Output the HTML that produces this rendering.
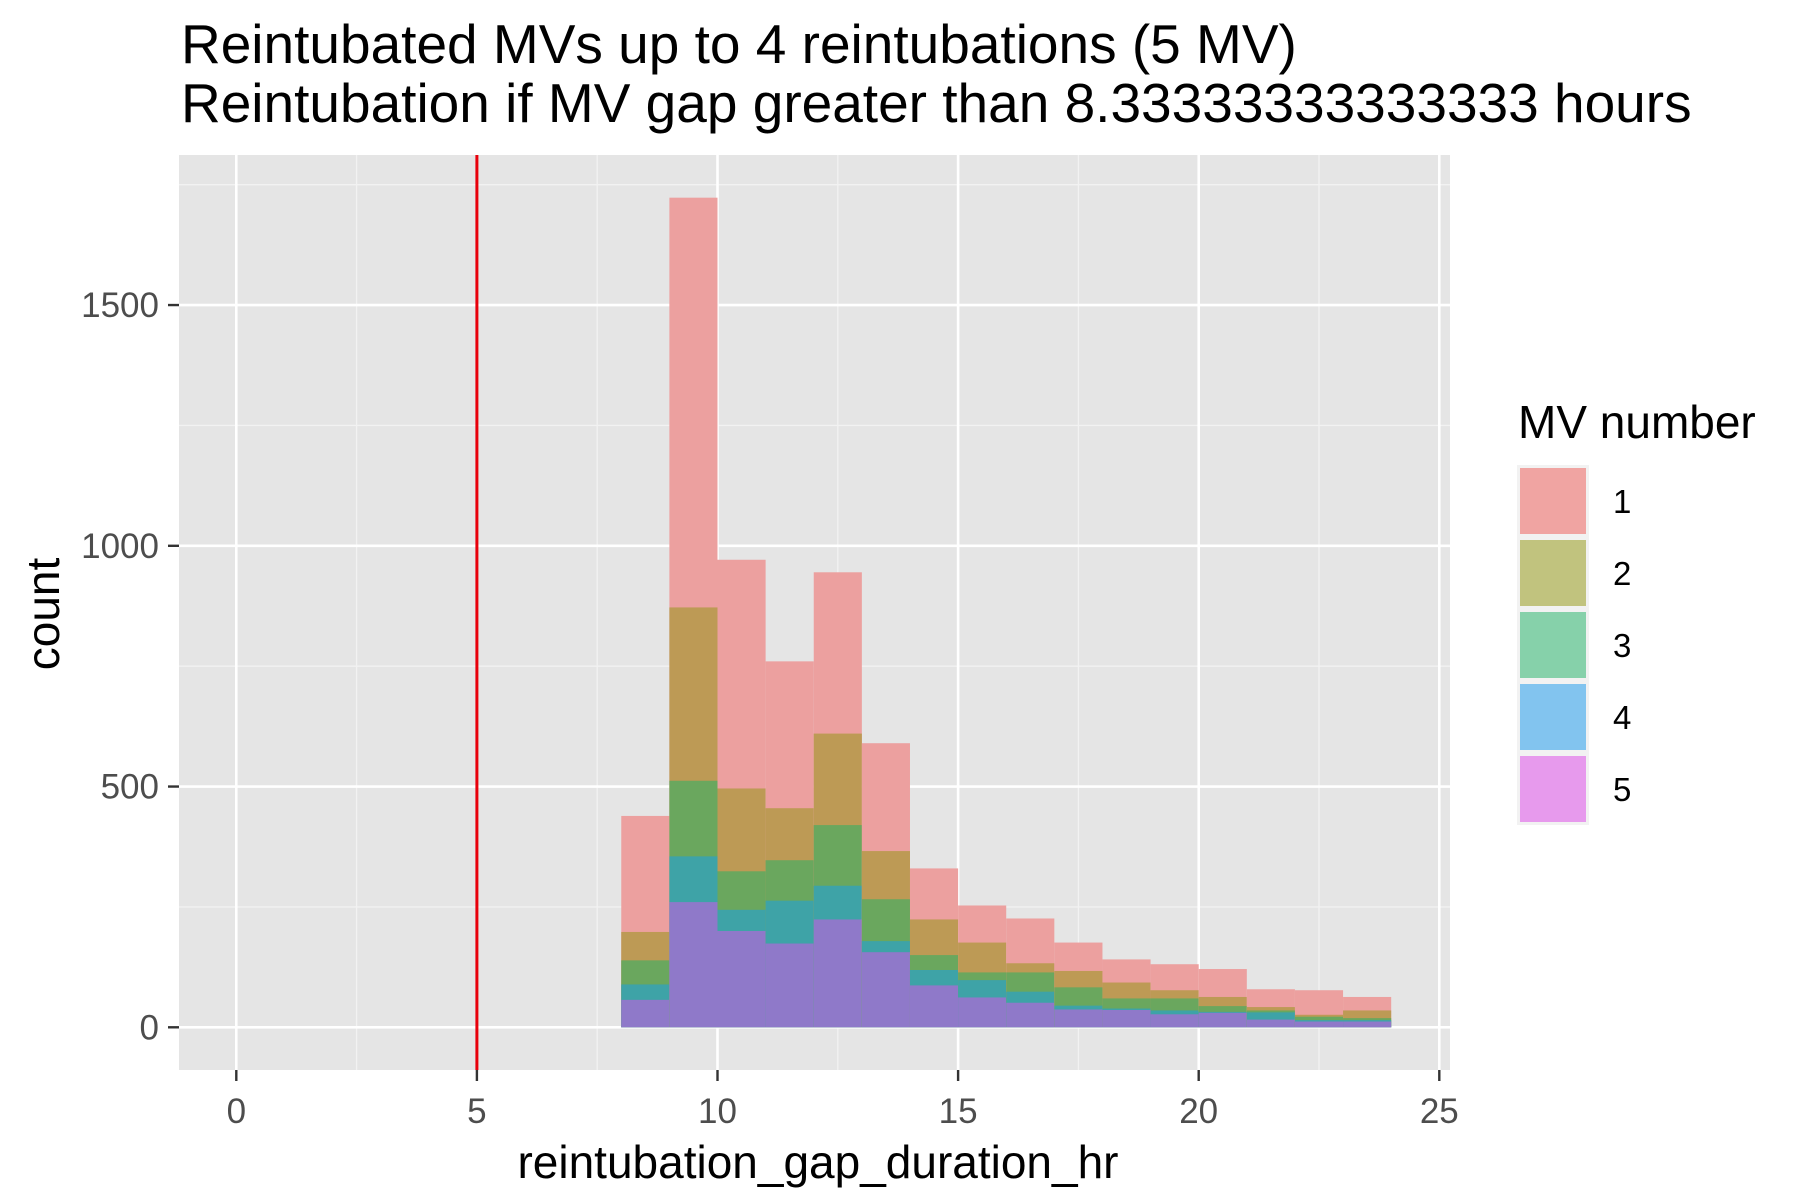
<!DOCTYPE html>
<html><head><meta charset="utf-8"><style>
html,body{margin:0;padding:0;background:#fff;}
svg{display:block;font-family:"Liberation Sans",Arial,sans-serif;}
</style></head><body>
<svg id="chart" width="1800" height="1200" viewBox="0 0 1800 1200" xmlns="http://www.w3.org/2000/svg">
<rect x="0" y="0" width="1800" height="1200" fill="#fff"/>
<text x="181" y="63" font-size="55" fill="#000">Reintubated MVs up to 4 reintubations (5 MV)</text>
<text x="181" y="122" font-size="55" fill="#000">Reintubation if MV gap greater than 8.33333333333333 hours</text>
<rect x="179" y="155" width="1271" height="915" fill="#e5e5e5"/>
<g id="grid"></g>
<g id="bars"></g>
<g id="vline"></g>
<g id="axes"></g>
<text x="818" y="1178" font-size="46" text-anchor="middle" fill="#000">reintubation_gap_duration_hr</text>
<text transform="translate(59,614) rotate(-90)" font-size="46" text-anchor="middle" fill="#000">count</text>
<g id="legend">
<text x="1518" y="438" font-size="46" fill="#000">MV number</text>
</g>
</svg>
<script>
const binStarts = [8,9,10,11,12,13,14,15,16,17,18,19,20,21,22,23];
const binWidth = 1;
const mv1 = [241,851,475,305,335,224,106,77,93,59,48,54,58,37,51,28];
const mv2 = [59,360,172,108,190,100,74,62,19,34,33,17,19,7,4,16];
const mv3 = [50,157,80,84,126,87,31,16,40,38,21,25,12,4,7,4];
const mv4 = [32,95,44,89,70,23,32,36,23,8,3,8,2,15,3,3];
const mv5 = [57,260,200,174,224,156,87,62,51,37,36,27,30,16,12,12];
const groupLabels = ["1","2","3","4","5"];
const xTicks = [0,5,10,15,20,25];
const xMinor = [2.5,7.5,12.5,17.5,22.5];
const yTicks = [0,500,1000,1500];
const yMinor = [250,750,1250,1750];
const vlineX = 5;

const NS="http://www.w3.org/2000/svg";
const PX0=179, PX1=1450, PY0=155, PY1=1070;
function xs(v){return 236.3 + v*48.12;}
function ys(v){return 1027.3 - v*0.4815;}
function mk(tag,attrs,parent){const e=document.createElementNS(NS,tag);for(const k in attrs)e.setAttribute(k,attrs[k]);parent.appendChild(e);return e;}

const grid=document.getElementById('grid');
xMinor.forEach(v=>{const l=mk('line',{x1:xs(v),x2:xs(v),y1:PY0,y2:PY1,stroke:'#f2f2f2','stroke-width':1.3},grid);

});
yMinor.forEach(v=>{const l=mk('line',{x1:PX0,x2:PX1,y1:ys(v),y2:ys(v),stroke:'#f2f2f2','stroke-width':1.3},grid);

});
xTicks.forEach(v=>{const l=mk('line',{x1:xs(v),x2:xs(v),y1:PY0,y2:PY1,stroke:'#fff','stroke-width':2.6},grid);

});
yTicks.forEach(v=>{const l=mk('line',{x1:PX0,x2:PX1,y1:ys(v),y2:ys(v),stroke:'#fff','stroke-width':2.6},grid);

});

const series=[mv1,mv2,mv3,mv4,mv5];
const stackCols=['#eca09f','#bd9a55','#6aa75e','#3ea3a7','#8f79c9'];
const bars=document.getElementById('bars');
binStarts.forEach((b,i)=>{
  for(let g=0;g<5;g++){
    let top=0;for(let k=g;k<5;k++)top+=series[k][i];
    const r=mk('rect',{x:xs(b),y:ys(top),width:xs(b+binWidth)-xs(b),height:ys(0)-ys(top),fill:stackCols[g]},bars);
    
    
  }
});

const vl=mk('line',{x1:xs(vlineX),x2:xs(vlineX),y1:PY0,y2:PY1,stroke:'#e8000b','stroke-width':3},document.getElementById('vline'));



const axes=document.getElementById('axes');
xTicks.forEach(v=>{
  const t=mk('line',{x1:xs(v),x2:xs(v),y1:PY1,y2:PY1+11,stroke:'#333','stroke-width':2.4},axes);
  
  
  const tx=mk('text',{x:xs(v),y:1123,'font-size':35,'text-anchor':'middle',fill:'#4d4d4d'},axes);
  tx.textContent=v;
  
  
});
yTicks.forEach(v=>{
  const t=mk('line',{x1:PX0-11,x2:PX0,y1:ys(v),y2:ys(v),stroke:'#333','stroke-width':2.4},axes);
  
  
  const tx=mk('text',{x:159,y:ys(v)+12,'font-size':35,'text-anchor':'end',fill:'#4d4d4d'},axes);
  tx.textContent=v;
  
  
});

const legCols=['#f0a4a2','#c1c37e','#86d1aa','#82c4ef','#e79aed'];
const leg=document.getElementById('legend');
groupLabels.forEach((lab,i)=>{
  const y=468+i*72;
  const bg=mk('rect',{x:1517,y:y-3,width:72,height:72,fill:'#f2f2f2'},leg);
  
  
  const k=mk('rect',{x:1520,y:y,width:66,height:66,fill:legCols[i]},leg);
  
  
  const t=mk('text',{x:1613,y:y+45,'font-size':33,fill:'#000'},leg);
  t.textContent=lab;
  
  
});
</script>
</body></html>
